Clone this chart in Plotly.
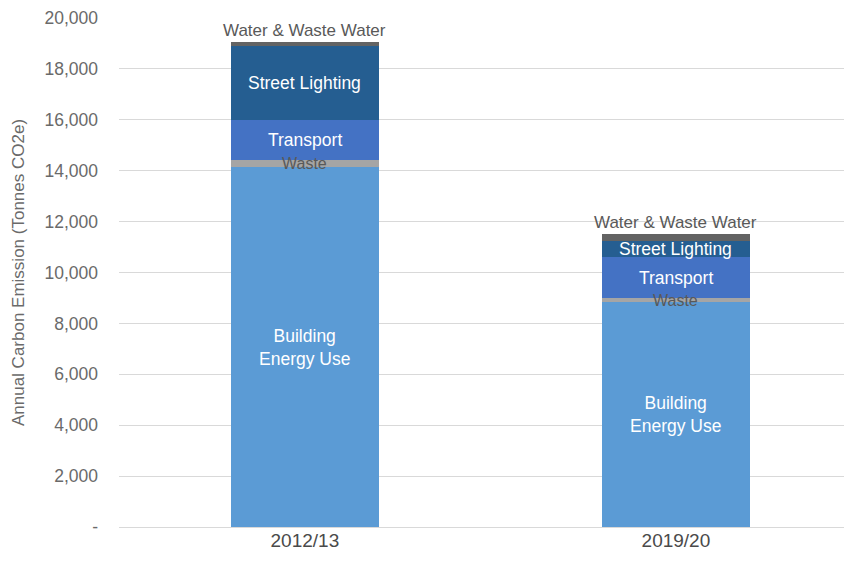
import plotly.graph_objects as go
import numpy as np

years = ["2012/13", "2019/20"]
series_names = ["Building Energy Use", "Waste", "Transport", "Street Lighting", "Water & Waste Water"]
building = [14130, 8850]
waste = [290, 135]
transport = [1570, 1635]
street_lighting = [2920, 630]
water = [135, 250]
colors = ["#5B9BD5", "#A5A5A5", "#4472C4", "#255E91", "#636363"]
label_texts = ["Building<br>Energy Use", "Waste", "Transport", "Street Lighting", "Water & Waste Water"]
label_colors = ["white", "#595959", "white", "white", "#595959"]
label_sizes = [17.5, 16, 17.5, 17.5, 17]

yticks = [0, 2000, 4000, 6000, 8000, 10000, 12000, 14000, 16000, 18000, 20000]
yticklabels = ["-", "2,000", "4,000", "6,000", "8,000", "10,000", "12,000", "14,000", "16,000", "18,000", "20,000"]

data = [building, waste, transport, street_lighting, water]
fig = go.Figure()
for name, vals, c in zip(series_names, data, colors):
    fig.add_trace(go.Bar(x=years, y=vals, name=name, marker=dict(color=c, line=dict(width=0)),
                         width=0.4, hoverinfo="name+y"))

cum = np.cumsum(np.array(data), axis=0)
for i in range(len(series_names)):
    for j, yr in enumerate(years):
        top = cum[i][j]
        bottom = top - data[i][j]
        if i == len(series_names) - 1:
            fig.add_annotation(x=yr, y=top, text=label_texts[i], showarrow=False,
                               yanchor="bottom", yshift=0,
                               font=dict(color=label_colors[i], size=label_sizes[i]))
        else:
            fig.add_annotation(x=yr, y=(top + bottom) / 2, text=label_texts[i], showarrow=False,
                               font=dict(color=label_colors[i], size=label_sizes[i]))

fig.update_layout(
    barmode="stack",
    width=836, height=550,
    margin=dict(l=111, r=0, t=10, b=31),
    plot_bgcolor="white", paper_bgcolor="white",
    showlegend=False,
    font=dict(family="Liberation Sans, Arial, sans-serif", color="#6A6A6A", size=15),
    xaxis=dict(range=[-0.501, 1.453], showgrid=False, showline=False, ticks="", automargin=False,
               tickfont=dict(size=19, color="#4A4A4A")),
    yaxis=dict(range=[0, 20000], tickvals=yticks, ticktext=yticklabels, automargin=False,
               showgrid=True, gridcolor="#D9D9D9", gridwidth=1, zeroline=True,
               zerolinecolor="#D9D9D9", zerolinewidth=1,
               tickfont=dict(size=17.5, color="#6A6A6A"), ticklabelstandoff=20,
               title=dict(text="Annual Carbon Emission (Tonnes CO2e)", font=dict(size=17, color="#6A6A6A"))),
)
fig.write_html("out.html")
